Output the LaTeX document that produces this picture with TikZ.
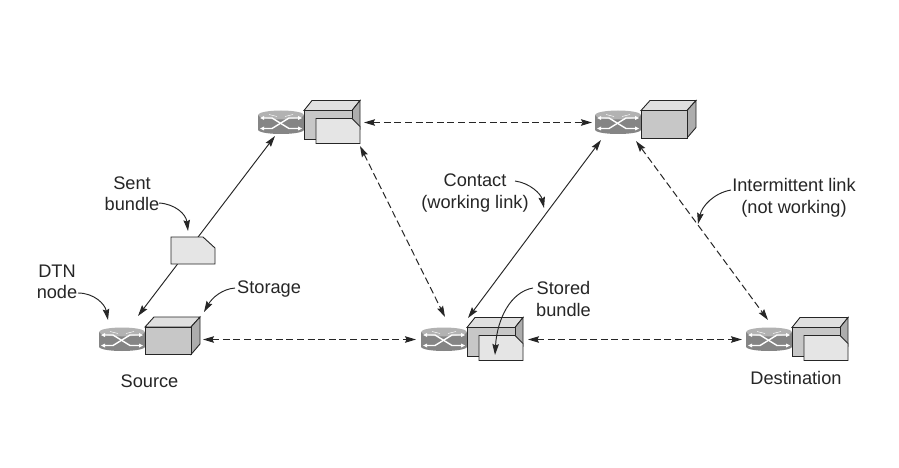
\documentclass[tikz,border=0pt]{standalone}
\usepackage{fontspec}
\setmainfont{Liberation Sans}
\usetikzlibrary{arrows.meta}
\definecolor{ink}{gray}{0.15}
\definecolor{rbody}{gray}{0.52}
\definecolor{rtop}{gray}{0.70}
\definecolor{fboxg}{gray}{0.78}
\definecolor{topg}{gray}{0.88}
\definecolor{sideg}{gray}{0.68}
\definecolor{sheetg}{gray}{0.9}
\tikzset{
  x=1pt,y=-1pt,
  edge/.style={draw=ink,line width=0.9pt},
  tip/.style={-{Stealth[length=11pt,width=6.5pt,inset=1.5pt]}},
  tips/.style={{Stealth[length=11pt,width=6.5pt,inset=1.5pt]}-{Stealth[length=11pt,width=6.5pt,inset=1.5pt]}},
  link/.style={draw=ink,line width=0.95pt,tips},
  dlink/.style={link,line width=1pt,dash pattern=on 7pt off 3.6pt},
  note/.style={draw=ink,line width=0.95pt,tip},
  lbl/.style={font=\fontsize{18.2}{21.5}\selectfont,text=ink,align=center,inner sep=0pt},
  anchorbox/.style={inner sep=0pt,outer sep=0pt,anchor=north west},
  routernode/.style={inner sep=0pt,outer sep=0pt,minimum width=46pt,minimum height=23pt},
  wh/.style={draw=white,line width=1.4pt},
}
% router: name, centre x, centre y
\newcommand{\routerdev}[3]{%
  \begin{scope}[shift={(#2,#3)}]
    \fill[rbody] (-23,-7.5) -- (-23,7) .. controls (-23,13) and (23,13) .. (23,7) -- (23,-7.5) -- cycle;
    \fill[rtop] (0,-7.5) ellipse[x radius=23,y radius=4.5];
    \draw[white,line width=.4pt] (-12,-8) -- (-4,-6) (12,-8) -- (4,-6);
    \draw[wh] (-19,-4.5) -- (-9,-4.5) -- (8,6) -- (19,6);
    \draw[wh] (-19,6) -- (-9,6) -- (8,-4.5) -- (19,-4.5);
    \fill[white] (-21,-4.5) -- (-17,-6.5) -- (-17,-2.5) -- cycle;
    \fill[white] (-21,6) -- (-17,4) -- (-17,8) -- cycle;
    \fill[white] (21,-4.5) -- (17,-6.5) -- (17,-2.5) -- cycle;
    \fill[white] (21,6) -- (17,4) -- (17,8) -- cycle;
  \end{scope}
  \node[routernode] (#1) at (#2,#3) {};%
}
% plain storage box: name, front top-left x, y
\newcommand{\plainbox}[3]{%
  \begin{scope}[shift={(#2,#3)},edge]
    \filldraw[fill=topg] (0,0) -- (9,-10) -- (55,-10) -- (46,0) -- cycle;
    \filldraw[fill=sideg] (46,0) -- (55,-10) -- (55,17) -- (46,27.5) -- cycle;
    \filldraw[fill=fboxg] (0,0) rectangle (46,27.5);
  \end{scope}
  \node[anchorbox,minimum width=46pt,minimum height=27.5pt] (#1) at (#2,#3) {};%
}
% storage box holding a bundle: name, front top-left x, y
\newcommand{\fullbox}[3]{%
  \begin{scope}[shift={(#2,#3)},edge]
    \filldraw[fill=topg] (0,0) -- (8,-10) -- (56,-10) -- (48,0) -- cycle;
    \filldraw[fill=sideg] (48,0) -- (56,-10) -- (56,18) -- (48,8) -- cycle;
    \filldraw[fill=fboxg] (0,0) -- (48,0) -- (48,8) -- (12,8) -- (12,29) -- (0,29) -- cycle;
    \filldraw[fill=sheetg] (12,8) -- (48,8) -- (56,16) -- (56,33) -- (12,33) -- cycle;
  \end{scope}
  \node[anchorbox,minimum width=56pt,minimum height=33pt] (#1) at (#2,#3) {};%
}
\begin{document}
\begin{tikzpicture}
\useasboundingbox (0,0) rectangle (899,468);
\fill[white] (0,0) rectangle (899,468);

% devices
\routerdev{rsrc}{122}{339.5}
\plainbox{bsrc}{145}{327}
\routerdev{rsend}{281}{122.5}
\fullbox{bsend}{304}{110.5}
\routerdev{rtop}{618}{122.5}
\plainbox{btop}{641}{110.5}
\routerdev{rmid}{444}{339.5}
\fullbox{bmid}{467}{327.5}
\routerdev{rdst}{769}{339.5}
\fullbox{bdst}{792}{327.5}

% free ends of the links
\coordinate (srcUp) at (138,316);
\coordinate (sendDown) at (275,136);
\coordinate (sendDash) at (360,146);
\coordinate (midDash) at (445,317);
\coordinate (midUp) at (468,318);
\coordinate (topDown) at (601,140);
\coordinate (topDash) at (636,141);
\coordinate (dstDash) at (768,320);

% links
\draw[link] (srcUp) -- (sendDown);
\draw[link] (midUp) -- (topDown);
\draw[dlink] (sendDash) -- (midDash);
\draw[dlink] (topDash) -- (dstDash);
\draw[dlink] ([xshift=12pt]bsrc.east |- rsrc.center) -- ([xshift=-5pt]rmid.west);
\draw[dlink] ([xshift=5pt]bmid.east |- rmid.center) -- ([xshift=-4pt]rdst.west);
\draw[dlink] ([xshift=4pt]bsend.east |- rsend.center) -- ([xshift=-3pt]rtop.west);

% bundle in transit
\node[inner sep=0pt,minimum width=44pt,minimum height=27pt] (bundle) at (193,250.5) {};
\filldraw[edge,fill=sheetg] (171,237) -- (203,237) -- (215,248) -- (215,264) -- (171,264) -- cycle;

% labels
\node[lbl] (tsource) at (149.5,381) {Source};
\node[lbl] (tdest) at (796,377.5) {Destination};
\node[lbl] (tdtn) at (57,282) {DTN\\node};
\node[lbl] (tsent) at (132,193.5) {Sent\\bundle};
\node[lbl,anchor=west] (tstorage) at (237,289.5) {Storage};
\node[lbl] (tcontact) at (475,193) {Contact\\(working link)};
\node[lbl] (tstored) at (563.5,299) {Stored\\bundle};
\node[lbl] (tinter) at (794,198) {Intermittent link\\(not working)};

% label pointers
\coordinate (pdtn) at (108,320);
\coordinate (psent) at (188,231);
\coordinate (pstorage) at (204,312);
\coordinate (pcontact) at (544,208);
\coordinate (pstored) at (495,355);
\coordinate (pinter) at (698,224);
\draw[note] (78,293) .. controls (94,293) and (105,304) .. (pdtn);
\draw[note] (159,203) .. controls (175,204) and (186,214) .. (psent);
\draw[note] (235,288) .. controls (222,289) and (212,298) .. (pstorage);
\draw[note] (515,181) .. controls (530,183) and (541,194) .. (pcontact);
\draw[note] (533,288) .. controls (510,292) and (497,320) .. (pstored);
\draw[note] (731,190) .. controls (714,193) and (702,206) .. (pinter);
\end{tikzpicture}
\end{document}
